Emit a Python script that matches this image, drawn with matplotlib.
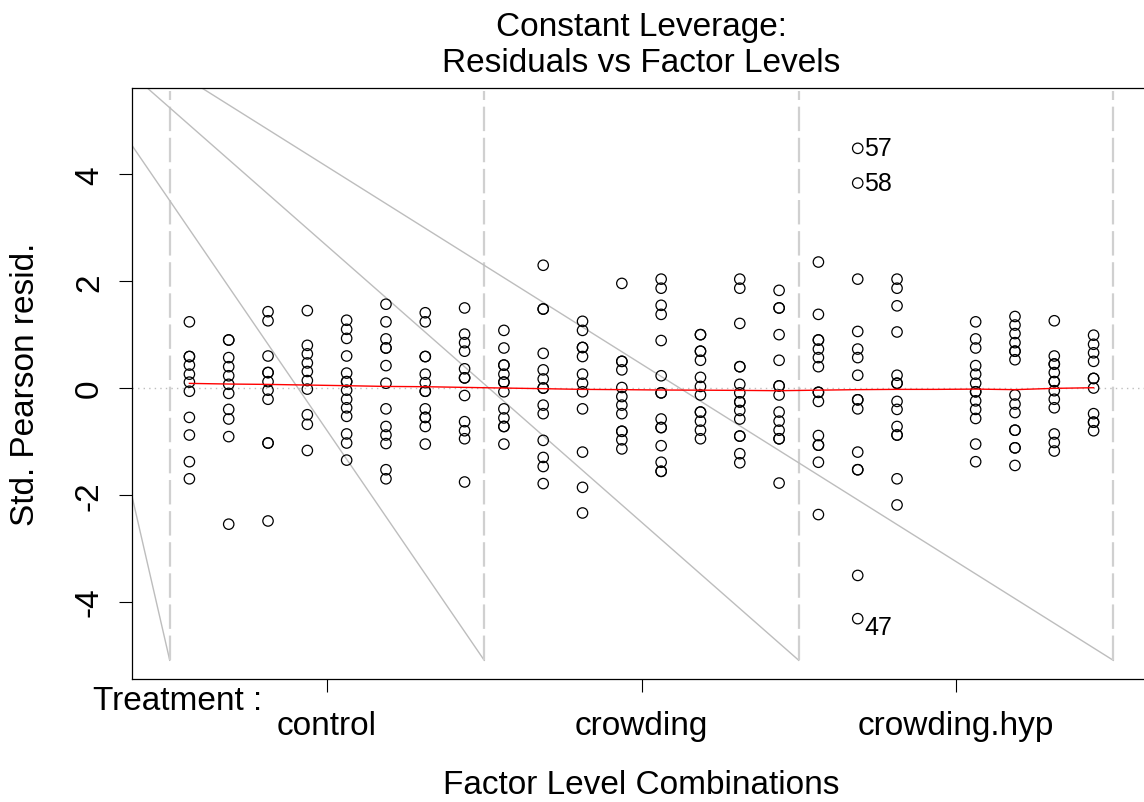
import numpy as np
import matplotlib
matplotlib.use("Agg")
import matplotlib.pyplot as plt

plt.rcParams['font.family'] = ['Liberation Sans', 'DejaVu Sans']

# factor levels
treatments = ["control", "crowding", "crowding.hyp"]
n_sub = 8  # levels of the second factor inside each treatment

# standardized Pearson residuals, one list per factor level combination
control_resid = [
    [1.24, 0.59, 0.59, 0.43, 0.26, 0.11, -0.06, -0.55, -0.88, -1.38, -1.70],
    [0.90, 0.90, 0.57, 0.40, 0.23, 0.07, -0.10, -0.40, -0.58, -0.91, -2.55],
    [1.43, 1.26, 0.60, 0.29, 0.29, 0.12, -0.04, -0.21, -1.03, -1.03, -2.49],
    [1.45, 0.80, 0.64, 0.47, 0.31, 0.14, -0.02, -0.50, -0.68, -1.17],
    [1.27, 1.10, 0.93, 0.60, 0.28, 0.12, 0.12, -0.04, -0.21, -0.37, -0.53, -0.86, -1.03, -1.35],
    [1.57, 1.24, 0.92, 0.75, 0.75, 0.42, 0.09, -0.39, -0.72, -0.88, -1.04, -1.53, -1.70],
    [1.41, 1.24, 0.59, 0.59, 0.26, 0.10, -0.06, -0.06, -0.39, -0.55, -0.55, -0.72, -1.05],
    [1.50, 1.01, 0.85, 0.69, 0.36, 0.19, 0.19, -0.14, -0.63, -0.80, -0.95, -1.76],
]
crowding_resid = [
    [1.08, 0.75, 0.43, 0.43, 0.26, 0.11, 0.11, -0.07, -0.39, -0.56, -0.72, -0.72, -1.05],
    [2.30, 1.48, 1.48, 0.65, 0.34, 0.17, 0.0, 0.0, -0.32, -0.48, -0.98, -1.30, -1.47, -1.79],
    [1.25, 1.08, 0.76, 0.76, 0.59, 0.26, 0.09, -0.07, -0.39, -1.20, -1.86, -2.34],
    [1.96, 0.50, 0.50, 0.34, 0.01, -0.16, -0.32, -0.48, -0.81, -0.81, -0.97, -1.14],
    [2.04, 1.87, 1.55, 1.38, 0.89, 0.23, -0.09, -0.09, -0.58, -0.74, -0.74, -1.08, -1.39, -1.56, -1.56],
    [1.00, 1.00, 0.69, 0.69, 0.52, 0.20, 0.03, -0.13, -0.45, -0.45, -0.62, -0.79, -0.95],
    [2.04, 1.87, 1.21, 0.40, 0.40, 0.07, -0.09, -0.26, -0.26, -0.42, -0.58, -0.90, -0.90, -1.23, -1.40],
    [1.83, 1.50, 1.50, 1.00, 0.52, 0.04, 0.04, -0.13, -0.45, -0.62, -0.79, -0.95, -0.95, -1.78],
]
crowding_hyp_resid = [
    [2.36, 1.38, 0.90, 0.90, 0.73, 0.57, 0.40, -0.08, -0.08, -0.25, -0.89, -1.07, -1.07, -1.39, -2.37],
    [4.49, 3.84, 2.04, 1.06, 0.73, 0.57, 0.24, -0.22, -0.22, -0.39, -1.20, -1.53, -1.53, -3.51, -4.32],
    [2.04, 1.87, 1.54, 1.05, 0.24, 0.09, 0.09, -0.25, -0.40, -0.72, -0.88, -0.88, -1.70, -2.19],
    [],
    [1.24, 0.92, 0.75, 0.42, 0.26, 0.09, -0.07, -0.07, -0.24, -0.40, -0.57, -1.05, -1.38],
    [1.34, 1.18, 1.02, 0.85, 0.69, 0.69, 0.53, -0.13, -0.30, -0.46, -0.79, -0.79, -1.12, -1.12, -1.45],
    [1.26, 0.60, 0.45, 0.45, 0.29, 0.12, 0.12, -0.05, -0.21, -0.37, -0.86, -1.02, -1.18],
    [0.99, 0.82, 0.66, 0.50, 0.18, 0.18, 0.0, -0.48, -0.64, -0.64, -0.80],
]
# observation numbers of the three largest |residuals| (in order of |r|)
id_labels = ["57", "47", "58"]

# red smoother, read per factor level combination
smooth_y = [0.087, 0.075, 0.068, 0.056, 0.044, 0.030, 0.025, 0.012,
            0.0, -0.012, -0.025, -0.030, -0.037, -0.040, -0.044, -0.050,
            -0.040, -0.030, -0.025, -0.025, -0.020, -0.030, -0.006, 0.006]

# gray lines from the original device output
ray_origin = (-4.55, 7.87)
vline_bottom = -5.10
vline_top = 5.56

# build x/y
groups = control_resid + crowding_resid + crowding_hyp_resid
facval = []
rsp = []
for i, g in enumerate(groups):
    facval += [i] * len(g)
    rsp += g
facval = np.array(facval, dtype=float)
rsp = np.array(rsp)

nlev = len(treatments)
xlim = (-0.5, nlev * n_sub - 0.5)
ylim_in = (-5.04, 5.21)
dx = (xlim[1] - xlim[0]) * 0.04
dy = (ylim_in[1] - ylim_in[0]) * 0.04

fig = plt.figure(figsize=(11.44, 8.03), dpi=100)
ax = fig.add_axes([132 / 1144, 1 - 680 / 803, (1151 - 132) / 1144, (680 - 89) / 803])
ax.set_xlim(xlim[0] - dx, xlim[1] + dx)
ax.set_ylim(ylim_in[0] - dy, ylim_in[1] + dy)

# group separators
vlines = n_sub * np.arange(nlev + 1) - 0.5
for v in vlines:
    ax.plot([ray_origin[0], v], [ray_origin[1], vline_bottom], color='#bdbdbd', lw=1.0, zorder=1)
    ax.plot([v, v], [vline_bottom, vline_top], color='#d0d0d0', lw=1.6,
            dashes=(11, 3), zorder=1)

ax.axhline(0, color='#bebebe', lw=1.0, ls=(0, (1, 3)), zorder=1)

ax.scatter(facval, rsp, s=56, facecolors='none', edgecolors='black', linewidths=0.9, zorder=3)
ax.plot(np.arange(len(smooth_y)), smooth_y, color='red', lw=1.0, zorder=4)

# label the largest residuals
order = np.argsort(-np.abs(rsp))[:len(id_labels)]
for k, lab in zip(order, id_labels):
    yoff = 0 if rsp[k] > 0 else -6
    ax.annotate(lab, (facval[k], rsp[k]), xytext=(4.5, yoff), textcoords='offset points',
                ha='left', va='center', fontsize=18)

# axes styling
ax.spines['right'].set_visible(False)
for side in ['left', 'top', 'bottom']:
    ax.spines[side].set_linewidth(0.9)
    ax.spines[side].set_color('black')

ax.set_yticks([-4, -2, 0, 2, 4])
ax.set_yticklabels(['-4', '-2', '0', '2', '4'], rotation=90, va='center', fontsize=24)
ax.set_xticks(n_sub * (np.arange(nlev) + 0.5) - 0.5)
ax.set_xticklabels(treatments, fontsize=24)
ax.tick_params(axis='both', length=9.5, width=0.8, color='black')
ax.tick_params(axis='y', pad=10)
ax.tick_params(axis='x', pad=13)

fig.text(641.5 / 1144, 1 - 36 / 803, "Constant Leverage:", ha='center', va='baseline', fontsize=24)
fig.text(641.5 / 1144, 1 - 72 / 803, "Residuals vs Factor Levels", ha='center', va='baseline', fontsize=24)
fig.text(26 / 1144, 1 - 384.5 / 803, "Std. Pearson resid.", rotation=90, ha='center', va='center', fontsize=24)
fig.text(641.5 / 1144, 1 - 794 / 803, "Factor Level Combinations", ha='center', va='baseline', fontsize=24)
fig.text(93 / 1144, 1 - 710 / 803, "Treatment :", ha='left', va='baseline', fontsize=24)

fig.savefig("out.png", dpi=100, facecolor='white')
